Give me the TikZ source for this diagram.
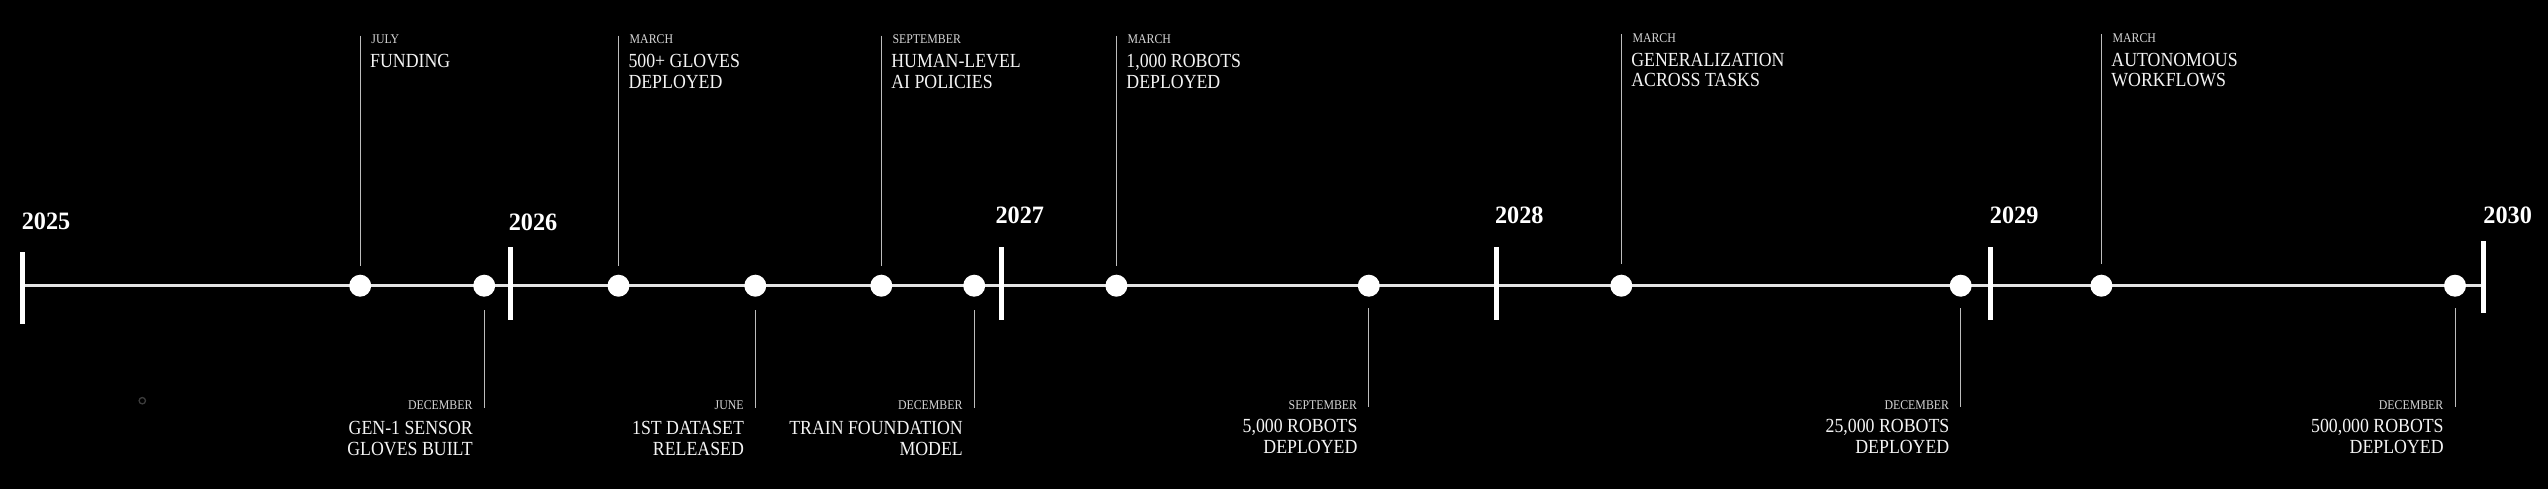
\documentclass[tikz,border=0pt]{standalone}
\usepackage{fontspec}
\setmainfont{Liberation Serif}
\newfontfamily\labelfont[FakeStretch=0.89]{Liberation Serif}
\newfontfamily\yearfont[FakeStretch=0.97]{Liberation Serif}
\definecolor{linegray}{HTML}{E4E4E4}
\definecolor{stemgray}{HTML}{BDBDBD}
\definecolor{monthgray}{HTML}{D6D6D6}
\definecolor{titlewhite}{HTML}{F4F4F4}
\definecolor{dotgray}{HTML}{3C3C3C}
\newcommand{\ttl}[2]{\begin{tabular}[t]{@{}#1@{}}#2\end{tabular}}
\begin{document}
\begin{tikzpicture}[x=1pt,y=-1pt,
  evt/.style={circle, fill=white, draw=none, inner sep=0pt, minimum size=22pt},
  yeartick/.style={rectangle, fill=white, draw=none, inner sep=0pt, minimum width=5pt, minimum height=72.6pt},
  mainline/.style={draw=linegray, line width=3.2pt},
  stem/.style={draw=stemgray, line width=1pt},
  month/.style={font=\labelfont\fontsize{13.3}{13.3}\selectfont, text=monthgray, inner sep=0pt},
  title/.style={font=\labelfont\fontsize{20}{20.7}\selectfont, text=titlewhite, inner sep=0pt},
  year/.style={font=\yearfont\bfseries\fontsize{25}{25}\selectfont, text=white, inner sep=0pt}]
\useasboundingbox (0,0) rectangle (2548,488);
\fill[black] (-4,-4) rectangle (2552,492);

% main line
\coordinate (lineL) at (22.4,285.8);
\coordinate (lineR) at (2483.6,285.8);
\draw[mainline] (lineL) -- (lineR);

% year ticks and labels
\node[yeartick] (t2025) at (22.4,288.0) {};
\node[yeartick] (t2026) at (510.3,283.7) {};
\node[yeartick] (t2027) at (1001.9,283.5) {};
\node[yeartick] (t2028) at (1496.5,283.5) {};
\node[yeartick] (t2029) at (1990.8,283.5) {};
\node[yeartick] (t2030) at (2483.6,277.0) {};
\node[year, anchor=base west] (y2025) at (21.6,229.0) {2025};
\node[year, anchor=base west] (y2026) at (508.6,230.0) {2026};
\node[year, anchor=base west] (y2027) at (995.3,223.3) {2027};
\node[year, anchor=base west] (y2028) at (1494.8,223.3) {2028};
\node[year, anchor=base west] (y2029) at (1989.7,223.3) {2029};
\node[year, anchor=base west] (y2030) at (2483.2,223.3) {2030};

% events above the line
\foreach \n/\x/\top/\bot/\mb/\tb/\mon/\txt in {
  a1/360.2/35.7/265.7/43.3/67.3/JULY/{FUNDING},
  a2/618.5/35.7/265.7/43.3/67.3/MARCH/{500+ GLOVES\\DEPLOYED},
  a3/881.3/35.7/265.7/43.3/67.3/SEPTEMBER/{HUMAN-LEVEL\\AI POLICIES},
  a4/1116.4/35.7/265.7/43.3/67.3/MARCH/{1,000 ROBOTS\\DEPLOYED},
  a5/1621.3/34.0/264.3/42.0/66.0/MARCH/{GENERALIZATION\\ACROSS TASKS},
  a6/2101.4/34.0/264.3/42.0/66.0/MARCH/{AUTONOMOUS\\WORKFLOWS}}{
  \coordinate (\n top) at (\x,\top);
  \coordinate (\n bot) at (\x,\bot);
  \draw[stem] (\n top) -- (\n bot);
  \node[evt] (\n) at (\x,285.7) {};
  \node[month, anchor=base west] (\n m) at (\x+11,\mb) {\mon};
  \node[title, anchor=base west] (\n t) at (\x+9.8,\tb) {\ttl{l}{\txt}};
}

% events below the line
\foreach \n/\x/\top/\bot/\tb/\mon/\txt in {
  b1/484.2/310.0/408.3/434.3/DECEMBER/{GEN-1 SENSOR\\GLOVES BUILT},
  b2/755.3/310.0/408.3/434.3/JUNE/{1ST DATASET\\RELEASED},
  b3/974.2/310.0/408.3/434.3/DECEMBER/{TRAIN FOUNDATION\\MODEL},
  b4/1368.8/308.3/406.7/432.7/SEPTEMBER/{5,000 ROBOTS\\DEPLOYED},
  b5/1960.7/308.3/406.7/432.7/DECEMBER/{25,000 ROBOTS\\DEPLOYED},
  b6/2455.0/308.3/406.7/432.7/DECEMBER/{500,000 ROBOTS\\DEPLOYED}}{
  \coordinate (\n top) at (\x,\top);
  \coordinate (\n bot) at (\x,\bot);
  \draw[stem] (\n top) -- (\n bot);
  \node[evt] (\n) at (\x,285.7) {};
  \node[month, anchor=base east] (\n m) at (\x-11.5,409.3) {\mon};
  \node[title, anchor=base east] (\n t) at (\x-11.2,\tb) {\ttl{r}{\txt}};
}

% faint ring
\draw[dotgray, line width=1.3pt] (142.3,400.7) circle (3.2pt);
\end{tikzpicture}
\end{document}
